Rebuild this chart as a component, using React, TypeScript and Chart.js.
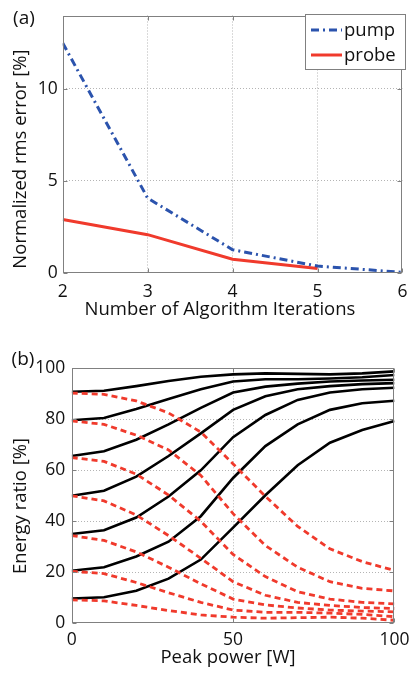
import React, { useEffect, useRef } from 'react';
import { Chart, registerables } from 'chart.js';

Chart.register(...registerables);

// ---------- Panel (a) data ----------
const iterations = [2, 3, 4, 5, 6];
const pumpError = [12.5, 4.06, 1.25, 0.36, 0.02];
const probeError = [2.9, 2.07, 0.73, 0.23];
const seriesNamesA = ['pump', 'probe'];
const xTicksA = [2, 3, 4, 5, 6];
const yTicksA = [0, 5, 10];

// ---------- Panel (b) data ----------
const peakPower = [0, 10, 20, 30, 40, 50, 60, 70, 80, 90, 100];
const black10 = [9.7, 10.2, 12.8, 17.5, 25, 37.5, 50.2, 62, 70.8, 75.8, 79.3];
const black20 = [20.6, 22, 26.2, 32, 42, 57, 69.5, 78, 83.7, 86.3, 87.3];
const black35 = [35, 36.5, 41.5, 49.7, 60, 73, 81.7, 87.6, 90.5, 91.8, 92.4];
const black50 = [50, 52, 57.5, 65.6, 74.5, 83.7, 89, 91.8, 93, 93.8, 94.2];
const black65 = [65.6, 67.5, 72, 78, 84.5, 90.5, 92.8, 94, 94.8, 95.2, 95.5];
const black80 = [79.6, 80.5, 84, 88, 91.8, 94.8, 95.7, 95.7, 96, 96.5, 97.4];
const black90 = [90.8, 91.2, 93, 95, 96.7, 97.6, 98, 97.8, 97.6, 98, 98.8];
const red90 = [90.3, 89.8, 87.2, 82.5, 75, 62.5, 49.8, 38, 29.2, 24.2, 20.7];
const red80 = [79.4, 78, 73.8, 68, 58, 43, 30.5, 22, 16.3, 13.7, 12.7];
const red65 = [65, 63.5, 58.5, 50.3, 40, 27, 18.3, 12.4, 9.5, 8.2, 7.6];
const red50 = [50, 48, 42.5, 34.4, 25.5, 16.3, 11, 8.2, 7, 6.2, 5.8];
const red35 = [34.4, 32.5, 28, 22, 15.5, 9.5, 7.2, 6, 5.2, 4.8, 4.5];
const red20 = [20.4, 19.5, 16, 12, 8.2, 5.2, 4.3, 4.3, 4, 3.5, 2.6];
const red10 = [9.2, 8.8, 7, 5, 3.3, 2.4, 2, 2.2, 2.4, 2, 1.2];
const blackSeries = [black10, black20, black35, black50, black65, black80, black90];
const redSeries = [red90, red80, red65, red50, red35, red20, red10];
const xTicksB = [0, 50, 100];
const yTicksB = [0, 20, 40, 60, 80, 100];

const FONT = '"Open Sans", "Noto Sans", sans-serif';
const TEXT = '#111';
const FRAME = '#808080';
const GRID = '#b4b4b4';
const BLUE = '#2b53ad';
const RED = '#f03a2c';
const TITLE_SIZE = 18.5;

type Txt = { text: string; x: number; y: number; size: number; rot?: number; align?: CanvasTextAlign };

function decorPlugin(texts: Txt[]) {
  return {
    id: 'decor',
    afterDraw(chart: any) {
      const { ctx, chartArea: a, scales } = chart;
      ctx.save();
      ctx.setLineDash([]);
      ctx.strokeStyle = FRAME;
      ctx.lineWidth = 1;
      const L = Math.round(a.left) + 0.5;
      const R = Math.round(a.right) - 0.5;
      const T = Math.round(a.top) + 0.5;
      const B = Math.round(a.bottom) - 0.5;
      ctx.strokeRect(L, T, R - L, B - T);
      const seg = (x1: number, y1: number, x2: number, y2: number) => {
        ctx.beginPath();
        ctx.moveTo(x1, y1);
        ctx.lineTo(x2, y2);
        ctx.stroke();
      };
      scales.x.ticks.forEach((t: any) => {
        const p = Math.round(scales.x.getPixelForValue(t.value)) + 0.5;
        seg(p, B, p, B - 4);
        seg(p, T, p, T + 4);
      });
      scales.y.ticks.forEach((t: any) => {
        const p = Math.round(scales.y.getPixelForValue(t.value)) + 0.5;
        seg(L, p, L + 4, p);
        seg(R, p, R - 4, p);
      });
      ctx.fillStyle = TEXT;
      ctx.textBaseline = 'middle';
      texts.forEach((t) => {
        ctx.save();
        ctx.font = `${t.size}px ${FONT}`;
        ctx.textAlign = t.align || 'center';
        ctx.translate(t.x, t.y);
        if (t.rot) ctx.rotate(t.rot);
        ctx.fillText(t.text, 0, 0);
        ctx.restore();
      });
      ctx.restore();
    },
  };
}

const legendPlugin = {
  id: 'boxLegend',
  afterDraw(chart: any) {
    const { ctx } = chart;
    const bx = 305.5, by = 14.5, bw = 100, bh = 55;
    ctx.save();
    ctx.fillStyle = '#fff';
    ctx.fillRect(bx, by, bw, bh);
    ctx.strokeStyle = FRAME;
    ctx.lineWidth = 1;
    ctx.setLineDash([]);
    ctx.strokeRect(bx, by, bw, bh);
    chart.data.datasets.forEach((ds: any, i: number) => {
      const y = 30 + i * 25;
      ctx.strokeStyle = ds.borderColor;
      ctx.lineWidth = ds.borderWidth;
      ctx.setLineDash(ds.borderDash || []);
      ctx.beginPath();
      ctx.moveTo(311, y);
      ctx.lineTo(342, y);
      ctx.stroke();
      ctx.setLineDash([]);
      ctx.fillStyle = TEXT;
      ctx.font = `18.5px ${FONT}`;
      ctx.textAlign = 'left';
      ctx.textBaseline = 'middle';
      ctx.fillText(ds.label, 344, y + 1);
    });
    ctx.restore();
  },
};

const edgeGrid = (min: number, max: number) => (ctx: any) => {
  const v = ctx.tick ? ctx.tick.value : null;
  return v === min || v === max ? 'rgba(0,0,0,0)' : GRID;
};

function makeA(canvas: HTMLCanvasElement) {
  return new Chart(canvas, {
    type: 'line',
    data: {
      datasets: [
        {
          label: seriesNamesA[0],
          data: iterations.map((x, i) => ({ x, y: pumpError[i] })),
          borderColor: BLUE,
          borderWidth: 3,
          borderDash: [8, 4, 2, 4],
          pointRadius: 0,
          fill: false,
          tension: 0,
        },
        {
          label: seriesNamesA[1],
          data: probeError.map((y, i) => ({ x: iterations[i], y })),
          borderColor: RED,
          borderWidth: 3,
          pointRadius: 0,
          fill: false,
          tension: 0,
        },
      ],
    },
    options: {
      animation: false,
      responsive: false,
      devicePixelRatio: 1,
      layout: { padding: { top: 10.7, right: 7, bottom: 0, left: 0 } },
      plugins: { legend: { display: false }, tooltip: { enabled: false } },
      scales: {
        x: {
          type: 'linear',
          min: 2,
          max: 6,
          afterBuildTicks: (s: any) => {
            s.ticks = xTicksA.map((v) => ({ value: v }));
          },
          afterFit: (s: any) => {
            s.height = 57.3;
          },
          ticks: { padding: 8.5, color: TEXT, font: { family: FONT, size: 17.5 }, maxRotation: 0, autoSkip: false },
          grid: { color: edgeGrid(2, 6), drawTicks: false, lineWidth: 1 },
          border: { display: false, dash: [1, 2] },
        },
        y: {
          type: 'linear',
          min: 0,
          max: 14,
          afterBuildTicks: (s: any) => {
            s.ticks = yTicksA.map((v) => ({ value: v }));
          },
          afterFit: (s: any) => {
            s.width = 62.7;
          },
          ticks: { padding: 5, color: TEXT, font: { family: FONT, size: 17.5 } },
          grid: { color: edgeGrid(0, 14), drawTicks: false, lineWidth: 1 },
          border: { display: false, dash: [1, 2] },
        },
      },
    },
    plugins: [
      decorPlugin([
        { text: '(a)', x: 24, y: 19, size: 19 },
        { text: 'Normalized rms error [%]', x: 21, y: 159, size: TITLE_SIZE, rot: -Math.PI / 2 },
        { text: 'Number of Algorithm Iterations', x: 220, y: 310, size: TITLE_SIZE },
      ]),
      legendPlugin,
    ],
  } as any);
}

function makeB(canvas: HTMLCanvasElement) {
  const toPts = (arr: number[]) => arr.map((y, i) => ({ x: peakPower[i], y }));
  const reds = redSeries.map((arr) => ({
    data: toPts(arr),
    borderColor: RED,
    borderWidth: 2.8,
    borderDash: [6, 4],
    pointRadius: 0,
    fill: false,
    tension: 0,
  }));
  const blacks = blackSeries.map((arr) => ({
    data: toPts(arr),
    borderColor: '#000',
    borderWidth: 2.6,
    pointRadius: 0,
    fill: false,
    tension: 0,
  }));
  return new Chart(canvas, {
    type: 'line',
    data: { datasets: [...reds, ...blacks] },
    options: {
      animation: false,
      responsive: false,
      devicePixelRatio: 1,
      layout: { padding: { top: 38.3, right: 14.3, bottom: 0, left: 0 } },
      plugins: { legend: { display: false }, tooltip: { enabled: false } },
      scales: {
        x: {
          type: 'linear',
          min: 0,
          max: 100,
          afterBuildTicks: (s: any) => {
            s.ticks = xTicksB.map((v) => ({ value: v }));
          },
          afterFit: (s: any) => {
            s.height = 49.7;
          },
          ticks: { padding: 6.5, color: TEXT, font: { family: FONT, size: 17.5 }, maxRotation: 0, autoSkip: false },
          grid: { color: edgeGrid(0, 100), drawTicks: false, lineWidth: 1 },
          border: { display: false, dash: [1, 2] },
        },
        y: {
          type: 'linear',
          min: 0,
          max: 100,
          afterBuildTicks: (s: any) => {
            s.ticks = yTicksB.map((v) => ({ value: v }));
          },
          afterFit: (s: any) => {
            s.width = 71.7;
          },
          ticks: { padding: 6.5, color: TEXT, font: { family: FONT, size: 17.5 } },
          grid: { color: edgeGrid(0, 100), drawTicks: false, lineWidth: 1 },
          border: { display: false, dash: [1, 2] },
        },
      },
    },
    plugins: [
      decorPlugin([
        { text: '(b)', x: 23, y: 30, size: 19 },
        { text: 'Energy ratio [%]', x: 21, y: 176, size: TITLE_SIZE, rot: -Math.PI / 2 },
        { text: 'Peak power [W]', x: 228, y: 328, size: TITLE_SIZE },
      ]),
    ],
  } as any);
}

export default function App() {
  const refA = useRef<HTMLCanvasElement>(null);
  const refB = useRef<HTMLCanvasElement>(null);

  useEffect(() => {
    const a = makeA(refA.current!);
    const b = makeB(refB.current!);
    return () => {
      a.destroy();
      b.destroy();
    };
  }, []);

  return (
    <div style={{ position: 'absolute', left: 0, top: 0, width: 416, height: 673, background: '#fff' }}>
      <canvas
        ref={refA}
        width={416}
        height={330}
        style={{ position: 'absolute', left: 0, top: 0, width: 416, height: 330 }}
      />
      <canvas
        ref={refB}
        width={416}
        height={343}
        style={{ position: 'absolute', left: 0, top: 330, width: 416, height: 343 }}
      />
    </div>
  );
}
